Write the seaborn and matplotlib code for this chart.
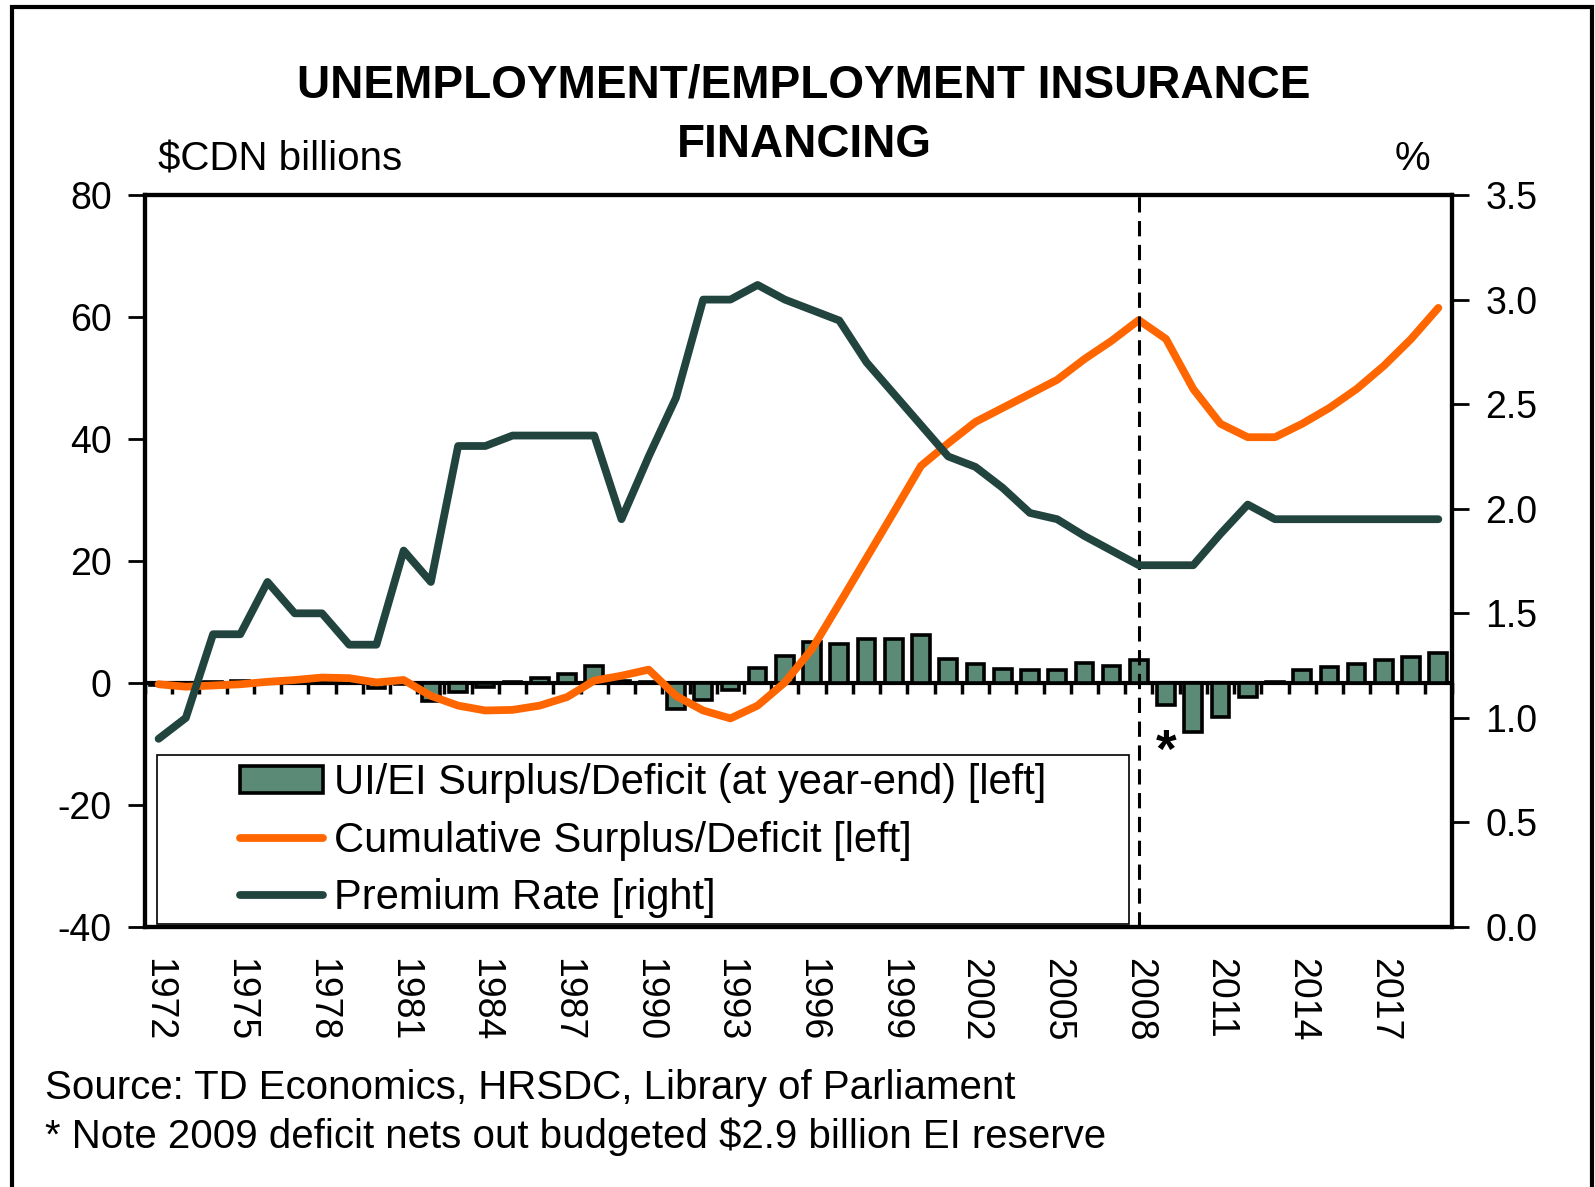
import numpy as np
import pandas as pd
import matplotlib
matplotlib.use("Agg")
import matplotlib.pyplot as plt
from matplotlib.patches import Rectangle
import seaborn as sns

# data
years = list(range(1972, 2020))
surplus = [-0.3, -0.2, 0.1, 0.3, 0.2, 0.3, 0.1, 0.2, -0.8, -0.2,
           -3.0, -1.5, -0.6, 0.2, 0.8, 1.5, 2.8, 0.3, 0.2, -4.3,
           -2.7, -1.2, 2.4, 4.4, 6.8, 6.4, 7.3, 7.3, 7.8, 3.9,
           3.2, 2.3, 2.2, 2.2, 3.3, 2.8, 3.7, -3.6, -8.0, -5.6,
           -2.3, 0.2, 2.2, 2.7, 3.1, 3.8, 4.3, 5.0]
cumulative = [-0.2, -0.6, -0.4, -0.2, 0.2, 0.5, 0.9, 0.8, 0.1, 0.5,
              -2.1, -3.7, -4.5, -4.4, -3.7, -2.3, 0.4, 1.2, 2.2, -2.1,
              -4.5, -5.8, -3.7, 0.1, 5.6, 13.0, 20.5, 28.0, 35.6, 39.3,
              42.8, 45.1, 47.4, 49.7, 53.1, 56.1, 59.5, 56.4, 48.2, 42.5,
              40.3, 40.3, 42.5, 45.1, 48.2, 52.0, 56.4, 61.5]
premium = [0.90, 1.00, 1.40, 1.40, 1.65, 1.50, 1.50, 1.35, 1.35, 1.80,
           1.65, 2.30, 2.30, 2.35, 2.35, 2.35, 2.35, 1.95, 2.25, 2.53,
           3.00, 3.00, 3.07, 3.00, 2.95, 2.90, 2.70, 2.55, 2.40, 2.25,
           2.20, 2.10, 1.98, 1.95, 1.87, 1.80, 1.73, 1.73, 1.73, 1.88,
           2.02, 1.95, 1.95, 1.95, 1.95, 1.95, 1.95, 1.95]
tick_years = [1972, 1975, 1978, 1981, 1984, 1987, 1990, 1993, 1996, 1999,
              2002, 2005, 2008, 2011, 2014, 2017]
labels = ["UI/EI Surplus/Deficit (at year-end) [left]",
          "Cumulative Surplus/Deficit [left]",
          "Premium Rate [right]"]

df = pd.DataFrame({"year": years, "surplus": surplus,
                   "cumulative": cumulative, "premium": premium})

BAR = "#5B8A76"
ORANGE = "#FF6600"
DARK = "#22443F"

sns.set_style("white")
plt.rcParams["font.family"] = ["Liberation Sans", "DejaVu Sans"]
plt.rcParams["axes.unicode_minus"] = False
plt.rcParams["text.color"] = "black"
plt.rcParams["xtick.color"] = "black"
plt.rcParams["ytick.color"] = "black"
TICK_FS = 27

fig = plt.figure(figsize=(15.95, 11.87), dpi=100)
ax = fig.add_axes([0.0909, 0.219, 0.8194, 0.6167])

sns.barplot(data=df, x="year", y="surplus", native_scale=True, width=0.65,
            color=BAR, saturation=1, edgecolor="black", linewidth=2.6,
            errorbar=None, ax=ax, zorder=2)
bars = ax.containers[0]
sns.lineplot(data=df, x="year", y="cumulative", color=ORANGE, linewidth=5.6,
             ax=ax, zorder=3)
orange_line = ax.lines[-1]
ax.axvline(2008, color="black", lw=2.2, ls=(0, (5, 2.8)), zorder=4)

ax.set_xlim(1971.5, 2019.5)
ax.set_ylim(-40, 80)
ax.set_yticks(np.arange(-40, 81, 20))
ax.set_xticks(tick_years)
ax.set_xticklabels([str(y) for y in tick_years], rotation=270,
                   fontsize=TICK_FS, va="top", ha="center")
ax.tick_params(axis="x", length=0, pad=22)
ax.tick_params(axis="y", direction="out", length=12, width=2,
               labelsize=TICK_FS, pad=12, left=True)
ax.set_xlabel("")
ax.set_ylabel("")
for s in ax.spines.values():
    s.set_linewidth(3)
    s.set_color("black")

# zero line with ticks between the years
zero = ax.secondary_xaxis(40 / 120)
zero.set_xticks(np.arange(1971.5, 2020, 1.0))
zero.tick_params(axis="x", direction="out", length=8, width=2.5,
                 labelbottom=False, labeltop=False)
zero.spines["bottom"].set_linewidth(3)
zero.spines["bottom"].set_color("black")

ax2 = ax.twinx()
sns.lineplot(data=df, x="year", y="premium", color=DARK, linewidth=5.6,
             ax=ax2, zorder=3)
dark_line = ax2.lines[-1]
ax2.set_ylim(0, 3.5)
ax2.set_yticks(np.arange(0, 3.51, 0.5))
ax2.set_yticklabels([f"{v:.1f}" for v in np.arange(0, 3.51, 0.5)])
ax2.tick_params(axis="y", direction="out", length=12, width=2,
                labelsize=TICK_FS, pad=12, right=True)
ax2.set_ylabel("")
ax2.set_xlabel("")
for s in ax2.spines.values():
    s.set_linewidth(3)
    s.set_color("black")

ax.text(2009, -11.5, "*", fontsize=38, fontweight="bold",
        ha="center", va="center", zorder=5)

# legend
ax2.add_patch(Rectangle((0.009, 0.004), 0.744, 0.231, transform=ax2.transAxes,
                        facecolor="white", edgecolor="black", lw=1.2, zorder=5))
leg = ax2.legend([bars, orange_line, dark_line], labels, loc="center",
                 bbox_to_anchor=(0.381, 0.118), frameon=False, fontsize=30,
                 handlelength=2.0, handleheight=0.6, handletextpad=0.25,
                 labelspacing=0.42, borderpad=0.2)
leg.set_zorder(6)

fig.text(0.504, 0.9280, "UNEMPLOYMENT/EMPLOYMENT INSURANCE",
         ha="center", va="center", fontsize=33, fontweight="bold")
fig.text(0.504, 0.8775, "FINANCING",
         ha="center", va="center", fontsize=33, fontweight="bold")
fig.text(0.099, 0.866, "$CDN billions", ha="left", va="center", fontsize=29)
fig.text(0.897, 0.866, "%", ha="right", va="center", fontsize=29)
fig.text(0.028, 0.083, "Source: TD Economics, HRSDC, Library of Parliament",
         ha="left", va="center", fontsize=29)
fig.text(0.028, 0.042,
         "* Note 2009 deficit nets out budgeted $2.9 billion EI reserve",
         ha="left", va="center", fontsize=29)

fig.add_artist(Rectangle((12 / 1595, -0.05), 1580 / 1595, 1.05 - 7 / 1187,
                         transform=fig.transFigure, fill=False,
                         edgecolor="black", lw=3))

fig.savefig("out.png", dpi=100)
